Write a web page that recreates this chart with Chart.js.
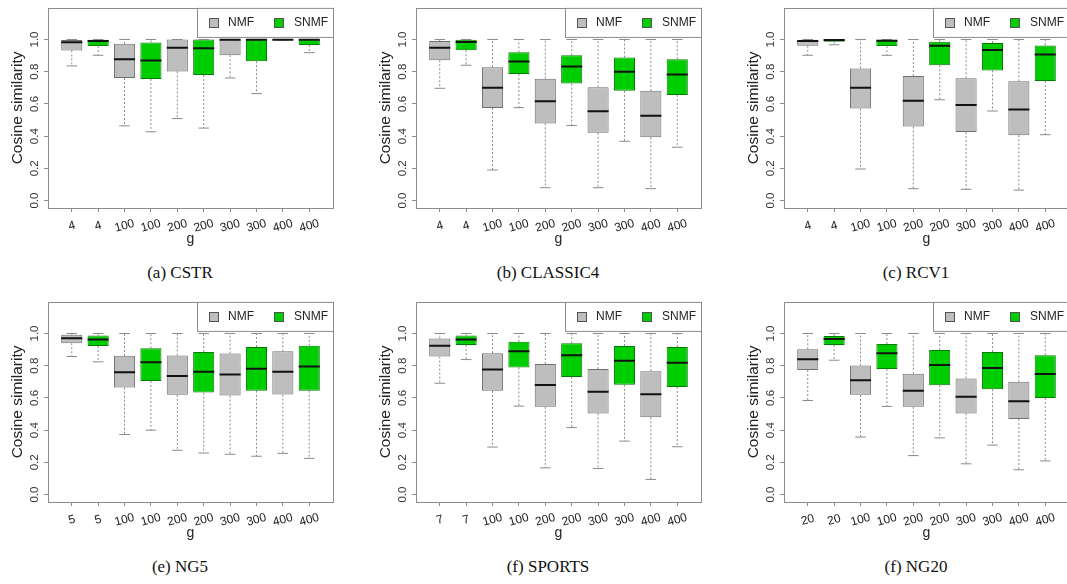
<!DOCTYPE html>
<html>
<head>
<meta charset="utf-8">
<script src="https://cdn.jsdelivr.net/npm/chart.js@4.4.1/dist/chart.umd.min.js"></script>
<style>
body { margin: 0; background: #fff; width: 1067px; height: 584px; overflow: hidden; position: relative; }
.panel { position: absolute; width: 368px; height: 250px; }
.caption { position: absolute; font-family: "Liberation Serif", serif; font-size: 17px; color: #111; transform: translate(-50%, -50%); white-space: nowrap; }
</style>
</head>
<body>
<div class="panel" style="left:0;top:0"><canvas id="cstr" width="368" height="250"></canvas></div>
<div class="panel" style="left:368px;top:0"><canvas id="classic4" width="368" height="250"></canvas></div>
<div class="panel" style="left:736px;top:0"><canvas id="rcv1" width="368" height="250"></canvas></div>
<div class="panel" style="left:0;top:294px"><canvas id="ng5" width="368" height="250"></canvas></div>
<div class="panel" style="left:368px;top:294px"><canvas id="sports" width="368" height="250"></canvas></div>
<div class="panel" style="left:736px;top:294px"><canvas id="ng20" width="368" height="250"></canvas></div>
<div class="caption" style="left:180px;top:273px">(a) CSTR</div>
<div class="caption" style="left:548px;top:273px">(b) CLASSIC4</div>
<div class="caption" style="left:916px;top:273px">(c) RCV1</div>
<div class="caption" style="left:180px;top:567px">(e) NG5</div>
<div class="caption" style="left:548px;top:567px">(f) SPORTS</div>
<div class="caption" style="left:916px;top:567px">(f) NG20</div>
<script>
// methods alternate: NMF, SNMF, NMF, SNMF ...
const methods = ['NMF', 'SNMF'];
const methodColors = ['#bebebe', '#00cd00'];
const methodBorders = ['#6e6e6e', '#007a00'];
const yTicks = [0, 0.2, 0.4, 0.6, 0.8, 1.0];

// CSTR
const cstrG = ['4', '4', '100', '100', '200', '200', '300', '300', '400', '400'];
const cstrHigh = [1, 1, 1, 1, 1, 1, 1, 1, 1, 1];
const cstrQ3 = [0.996, 0.999, 0.973, 0.982, 1.0, 1.0, 1.0, 1.0, 1.0, 1.0];
const cstrMed = [0.983, 0.990, 0.877, 0.869, 0.949, 0.945, 0.998, 0.998, 0.999, 0.998];
const cstrQ1 = [0.932, 0.959, 0.761, 0.755, 0.802, 0.779, 0.902, 0.865, 0.998, 0.965];
const cstrLow = [0.836, 0.902, 0.464, 0.427, 0.509, 0.450, 0.761, 0.664, 0.997, 0.918];

// CLASSIC4
const classicG = ['4', '4', '100', '100', '200', '200', '300', '300', '400', '400'];
const classicHigh = [1, 1, 1, 1, 1, 1, 1, 1, 1, 1];
const classicQ3 = [0.990, 0.998, 0.828, 0.920, 0.757, 0.902, 0.703, 0.888, 0.681, 0.877];
const classicMed = [0.949, 0.984, 0.701, 0.863, 0.616, 0.832, 0.554, 0.800, 0.526, 0.783];
const classicQ1 = [0.871, 0.933, 0.575, 0.785, 0.479, 0.726, 0.421, 0.681, 0.393, 0.656];
const classicLow = [0.697, 0.840, 0.190, 0.577, 0.080, 0.466, 0.080, 0.368, 0.074, 0.331];

// RCV1
const rcvG = ['4', '4', '100', '100', '200', '200', '300', '300', '400', '400'];
const rcvHigh = [1, 1, 1, 1, 1, 1, 1, 1, 1, 1];
const rcvQ3 = [0.998, 1.0, 0.820, 0.998, 0.773, 0.986, 0.759, 0.978, 0.740, 0.963];
const rcvMed = [0.990, 0.997, 0.701, 0.992, 0.620, 0.961, 0.593, 0.935, 0.566, 0.906];
const rcvQ1 = [0.961, 0.986, 0.571, 0.959, 0.460, 0.840, 0.425, 0.808, 0.405, 0.742];
const rcvLow = [0.902, 0.967, 0.196, 0.902, 0.074, 0.626, 0.070, 0.556, 0.065, 0.409];

// NG5
const ng5G = ['5', '5', '100', '100', '200', '200', '300', '300', '400', '400'];
const ng5High = [1, 1, 1, 1, 1, 1, 1, 1, 1, 1];
const ng5Q3 = [0.992, 0.988, 0.861, 0.908, 0.863, 0.885, 0.875, 0.916, 0.889, 0.924];
const ng5Med = [0.971, 0.963, 0.760, 0.822, 0.736, 0.762, 0.746, 0.781, 0.762, 0.795];
const ng5Q1 = [0.939, 0.922, 0.664, 0.705, 0.619, 0.633, 0.615, 0.645, 0.621, 0.645];
const ng5Low = [0.857, 0.824, 0.373, 0.400, 0.275, 0.258, 0.250, 0.238, 0.256, 0.225];

// SPORTS
const sportsG = ['7', '7', '100', '100', '200', '200', '300', '300', '400', '400'];
const sportsHigh = [1, 1, 1, 1, 1, 1, 1, 1, 1, 1];
const sportsQ3 = [0.969, 0.988, 0.877, 0.949, 0.811, 0.939, 0.779, 0.922, 0.766, 0.916];
const sportsMed = [0.924, 0.963, 0.777, 0.889, 0.680, 0.865, 0.639, 0.830, 0.623, 0.818];
const sportsQ1 = [0.857, 0.928, 0.645, 0.789, 0.545, 0.730, 0.504, 0.682, 0.480, 0.668];
const sportsLow = [0.691, 0.838, 0.295, 0.549, 0.166, 0.416, 0.162, 0.332, 0.094, 0.297];

// NG20
const ng20G = ['20', '20', '100', '100', '200', '200', '300', '300', '400', '400'];
const ng20High = [1, 1, 1, 1, 1, 1, 1, 1, 1, 1];
const ng20Q3 = [0.902, 0.984, 0.801, 0.934, 0.750, 0.898, 0.721, 0.885, 0.701, 0.865];
const ng20Med = [0.840, 0.965, 0.709, 0.877, 0.645, 0.805, 0.607, 0.785, 0.580, 0.748];
const ng20Q1 = [0.773, 0.928, 0.619, 0.779, 0.545, 0.678, 0.504, 0.654, 0.469, 0.600];
const ng20Low = [0.584, 0.834, 0.357, 0.547, 0.242, 0.352, 0.191, 0.307, 0.154, 0.209];

// frame, rotated x labels and the boxed legend in the top right corner
const panelDeco = {
  id: 'panelDeco',
  afterDraw(chart, args, opts) {
    const ctx = chart.ctx;
    const area = chart.chartArea;
    const xs = chart.scales.x;
    ctx.save();
    ctx.strokeStyle = '#8c8c8c';
    ctx.lineWidth = 1;
    ctx.strokeRect(Math.round(area.left) + 0.5, Math.round(area.top) + 0.5,
      Math.round(area.right - area.left), Math.round(area.bottom - area.top));

    // x tick labels, tilted a little
    ctx.fillStyle = '#222';
    ctx.font = '12px "Liberation Sans", Arial, sans-serif';
    ctx.textAlign = 'center';
    ctx.textBaseline = 'middle';
    opts.labels.forEach((lab, i) => {
      ctx.save();
      ctx.translate(xs.getPixelForValue(i + 1), area.bottom + 18);
      ctx.rotate(-15 * Math.PI / 180);
      ctx.fillText(lab, 0, 0);
      ctx.restore();
    });

    // legend
    const lw = 136, lh = 29;
    const lx = area.right - lw, ly = area.top;
    ctx.fillStyle = '#fff';
    ctx.fillRect(lx, ly, lw, lh);
    ctx.strokeStyle = '#8c8c8c';
    ctx.strokeRect(Math.round(lx) + 0.5, ly + 0.5, lw, lh);
    const sq = [lx + 16, lx + 81];
    const tx = [lx + 31, lx + 97];
    ctx.font = '12px "Liberation Sans", Arial, sans-serif';
    ctx.textAlign = 'left';
    for (let k = 0; k < 2; k++) {
      ctx.fillStyle = methodColors[k];
      ctx.fillRect(Math.round(sq[k] - 4.5), Math.round(ly + 10), 9, 9);
      ctx.strokeStyle = '#555';
      ctx.strokeRect(Math.round(sq[k] - 4.5) + 0.5, Math.round(ly + 10) + 0.5, 9, 9);
      ctx.fillStyle = '#222';
      ctx.fillText(methods[k], tx[k], ly + 15);
    }
    ctx.restore();
  }
};

function boxChart(id, labels, low, q1, med, q3, high)
{
  let boxes = [], whiskers = [], caps = [], medians = [];
  let fills = [], borders = [];
  for (let i = 0; i < labels.length; i++)
  {
    let x = i + 1;
    boxes.push({x: x, y: [q1[i], q3[i]]});
    fills.push(methodColors[i % 2]);
    borders.push(methodBorders[i % 2]);
    whiskers.push({x: x, y: q3[i]}, {x: x, y: high[i]}, {x: x, y: null},
                  {x: x, y: q1[i]}, {x: x, y: low[i]}, {x: x, y: null});
    caps.push({x: x - 0.2, y: high[i]}, {x: x + 0.2, y: high[i]}, {x: x, y: null},
              {x: x - 0.2, y: low[i]}, {x: x + 0.2, y: low[i]}, {x: x, y: null});
    medians.push({x: x - 0.4, y: med[i]}, {x: x + 0.4, y: med[i]}, {x: x, y: null});
  }

  const data = {
    datasets: [
      {
        type: 'bar',
        data: boxes,
        backgroundColor: fills,
        borderColor: borders,
        borderWidth: 1,
        borderSkipped: false,
        barPercentage: 0.8,
        categoryPercentage: 1,
        order: 2
      },
      {
        type: 'line',
        data: whiskers,
        borderColor: '#8a8a8a',
        borderWidth: 1,
        borderDash: [2, 2],
        pointRadius: 0,
        spanGaps: false,
        order: 3
      },
      {
        type: 'line',
        data: caps,
        borderColor: '#8a8a8a',
        borderWidth: 1,
        pointRadius: 0,
        spanGaps: false,
        order: 1
      },
      {
        type: 'line',
        data: medians,
        borderColor: '#111',
        borderWidth: 2,
        pointRadius: 0,
        spanGaps: false,
        order: 0
      }
    ]
  };

  const config = {
    type: 'bar',
    data: data,
    options: {
      responsive: false,
      animation: false,
      events: [],
      layout: { padding: { left: 0, top: 5, right: 35, bottom: 0 } },
      plugins: {
        legend: { display: false },
        tooltip: { enabled: false },
        panelDeco: { labels: labels }
      },
      scales: {
        x: {
          type: 'linear',
          offset: false,
          min: 0.1,
          max: 10.9,
          afterBuildTicks: (s) => { s.ticks = labels.map((l, i) => ({value: i + 1})); },
          afterFit: (s) => { s.height = 42; },
          grid: { offset: false, drawOnChartArea: false, drawTicks: true, tickLength: 4, color: '#8c8c8c' },
          border: { display: false },
          ticks: { display: false },
          title: {
            display: true, text: 'g', color: '#222',
            font: { family: '"Liberation Sans", Arial, sans-serif', size: 14 },
            padding: { top: 0, bottom: 2 }
          }
        },
        y: {
          type: 'linear',
          min: -0.046,
          max: 1.196,
          afterBuildTicks: (s) => { s.ticks = yTicks.map(v => ({value: v})); },
          afterFit: (s) => { s.width = 48; },
          grid: { drawOnChartArea: false, drawTicks: true, tickLength: 4, color: '#8c8c8c' },
          border: { display: false },
          ticks: {
            minRotation: 90, maxRotation: 90, crossAlign: 'center', padding: 1,
            color: '#333',
            font: { family: '"Liberation Sans", Arial, sans-serif', size: 11.5 },
            callback: (v) => Number(v).toFixed(1)
          },
          title: {
            display: true, text: 'Cosine similarity', color: '#222',
            font: { family: '"Liberation Sans", Arial, sans-serif', size: 15.5 },
            padding: { top: 8, bottom: 0 }
          }
        }
      }
    },
    plugins: [panelDeco]
  };

  new Chart(document.getElementById(id), config);
}

boxChart('cstr', cstrG, cstrLow, cstrQ1, cstrMed, cstrQ3, cstrHigh);
boxChart('classic4', classicG, classicLow, classicQ1, classicMed, classicQ3, classicHigh);
boxChart('rcv1', rcvG, rcvLow, rcvQ1, rcvMed, rcvQ3, rcvHigh);
boxChart('ng5', ng5G, ng5Low, ng5Q1, ng5Med, ng5Q3, ng5High);
boxChart('sports', sportsG, sportsLow, sportsQ1, sportsMed, sportsQ3, sportsHigh);
boxChart('ng20', ng20G, ng20Low, ng20Q1, ng20Med, ng20Q3, ng20High);
</script>
</body>
</html>
